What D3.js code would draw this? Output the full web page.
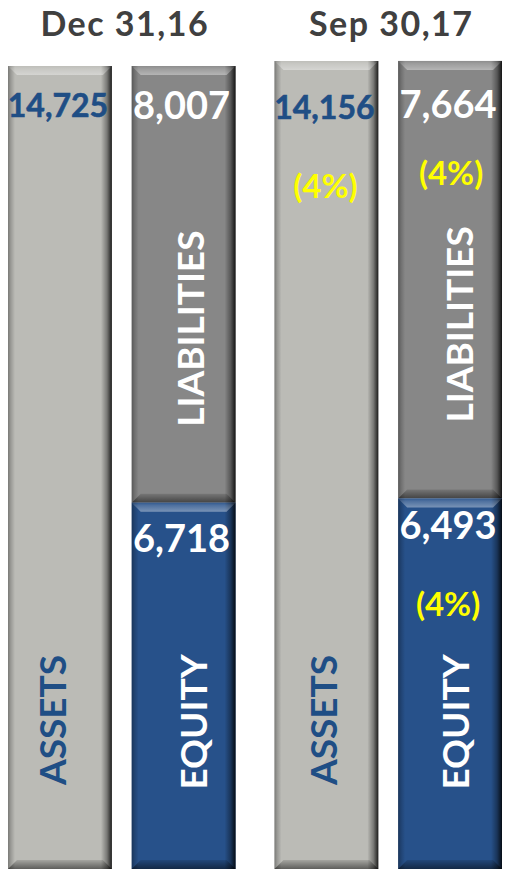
<!DOCTYPE html>
<html>
<head>
<meta charset="utf-8">
<script src="https://cdn.jsdelivr.net/npm/d3@7"></script>
<style>
  html, body { margin: 0; padding: 0; background: #ffffff; }
  svg { display: block; }
  text { font-family: Lato, "Open Sans", sans-serif; font-weight: 700; }
</style>
</head>
<body>
<svg id="chart" width="505" height="872"></svg>
<script>
// ---- data ----
const periods = ["Dec 31,16", "Sep 30,17"];
const assets = [14725, 14156];
const liabilities = [8007, 7664];
const equity = [6718, 6493];
const assetsChange = ["", "(4%)"];
const liabilitiesChange = ["", "(4%)"];
const equityChange = ["", "(4%)"];
const barKinds = ["ASSETS", "FUNDING"];

// ---- layout ----
const W = 505, H = 872;
const baseY = 869;
const plotTop = [66, 61];
const svg = d3.select("#chart");
const defs = svg.append("defs");

const x0 = d3.scaleBand().domain(periods).range([8, 502]).paddingInner(0.146).paddingOuter(0);
const x1 = d3.scaleBand().domain(barKinds).range([0, x0.bandwidth()]).paddingInner(0.16).paddingOuter(0);
const yScales = periods.map((p, i) => d3.scaleLinear().domain([0, assets[i]]).range([baseY, plotTop[i]]));

const fmt = d3.format(",");

// gradients
function lin(id, x1_, y1_, x2_, y2_, stops) {
  const g = defs.append("linearGradient").attr("id", id)
    .attr("x1", x1_).attr("y1", y1_).attr("x2", x2_).attr("y2", y2_);
  stops.forEach(s => g.append("stop").attr("offset", s[0]).attr("stop-color", s[1]).attr("stop-opacity", s[2]));
}
lin("gRight", 0, 0, 1, 0, [[0, "#000", 0], [0.55, "#000", 0.35], [1, "#000", 0.85]]);
lin("gLeft", 0, 0, 1, 0, [[0, "#000", 0.35], [0.4, "#000", 0.18], [1, "#000", 0]]);
lin("gTop", 0, 0, 0, 1, [[0, "#fff", 0.05], [0.3, "#fff", 0.18], [1, "#fff", 0.38]]);
lin("gBottom", 0, 0, 0, 1, [[0, "#000", 0.12], [1, "#000", 0.5]]);

const colors = { assets: "#BBBBB6", liabilities: "#878787", equity: "#27518A" };

function drawBar(g, x, y, w, h, fill) {
  const b = 9;
  const grp = g.append("g");
  grp.append("rect").attr("x", x).attr("y", y).attr("width", w).attr("height", h).attr("fill", fill);
  grp.append("rect").attr("x", x).attr("y", y).attr("width", 7).attr("height", h).attr("fill", "url(#gLeft)");
  grp.append("rect").attr("x", x + w - 11).attr("y", y).attr("width", 11).attr("height", h).attr("fill", "url(#gRight)");
  grp.append("path")
    .attr("d", `M${x},${y}L${x + w},${y}L${x + w - b},${y + b}L${x + b},${y + b}Z`)
    .attr("fill", "url(#gTop)");
  grp.append("path")
    .attr("d", `M${x},${y + h}L${x + w},${y + h}L${x + w - b},${y + h - b}L${x + b},${y + h - b}Z`)
    .attr("fill", "url(#gBottom)");
}

// bars
periods.forEach((p, i) => {
  const y = yScales[i];
  const g = svg.append("g");
  const xa = x0(p) + x1("ASSETS");
  const xf = x0(p) + x1("FUNDING");
  const bw = x1.bandwidth();
  drawBar(g, xa, y(assets[i]), bw, y(0) - y(assets[i]), colors.assets);
  drawBar(g, xf, y(equity[i] + liabilities[i]), bw, y(equity[i]) - y(equity[i] + liabilities[i]), colors.liabilities);
  drawBar(g, xf, y(equity[i]), bw, y(0) - y(equity[i]), colors.equity);
});

// titles
svg.selectAll("text.title").data(periods).join("text")
  .attr("class", "title")
  .attr("x", d => x0(d) + x0.bandwidth() / 2 + 3)
  .attr("y", 36)
  .attr("text-anchor", "middle")
  .attr("fill", "#404040")
  .attr("font-size", 34)
  .attr("letter-spacing", 1.5)
  .text(d => d);

// labels
const assetValOff = [51, 58];
const liabValOff = [53, 57];
const eqValOff = [49, 41];
periods.forEach((p, i) => {
  const y = yScales[i];
  const bw = x1.bandwidth();
  const cxA = x0(p) + x1("ASSETS") + bw / 2;
  const cxF = x0(p) + x1("FUNDING") + bw / 2;
  const g = svg.append("g");

  g.append("text").attr("x", cxA - 2).attr("y", y(assets[i]) + assetValOff[i])
    .attr("text-anchor", "middle").attr("fill", "#1F4E85").attr("font-size", 32)
    .attr("stroke", "#1F4E85").attr("stroke-width", 0.6)
    .text(fmt(assets[i]));
  g.append("text").attr("x", cxF - 2).attr("y", y(equity[i] + liabilities[i]) + liabValOff[i])
    .attr("text-anchor", "middle").attr("fill", "#ffffff").attr("font-size", 38)
    .text(fmt(liabilities[i]));
  g.append("text").attr("x", cxF - 2).attr("y", y(equity[i]) + eqValOff[i])
    .attr("text-anchor", "middle").attr("fill", "#ffffff").attr("font-size", 38)
    .text(fmt(equity[i]));

  // change labels
  const chg = [
    [assetsChange[i], cxA - 1, y(assets[i]) + 124],
    [liabilitiesChange[i], cxF + 1, y(equity[i] + liabilities[i]) + 111],
    [equityChange[i], cxF - 2, y(equity[i]) + 105]
  ];
  chg.forEach(c => {
    if (!c[0]) return;
    g.append("text").attr("x", c[1]).attr("y", c[2])
      .attr("text-anchor", "middle").attr("dominant-baseline", "central")
      .attr("fill", "#FFFF00").attr("font-size", 33).text(c[0]);
  });

  // vertical category labels
  const vlab = [
    ["ASSETS", cxA + [-8, -4][i], y(0) - 149, "#1F4E85"],
    ["LIABILITIES", cxF + [6, 8][i], y(equity[i]) - 174, "#ffffff"],
    ["EQUITY", cxF + [9, 4][i], y(0) - 147, "#ffffff"]
  ];
  vlab.forEach(v => {
    g.append("text")
      .attr("transform", `translate(${v[1]},${v[2]}) rotate(-90)`)
      .attr("text-anchor", "middle").attr("dominant-baseline", "central")
      .attr("fill", v[3]).attr("font-size", 37).text(v[0]);
  });
});
</script>
</body>
</html>
